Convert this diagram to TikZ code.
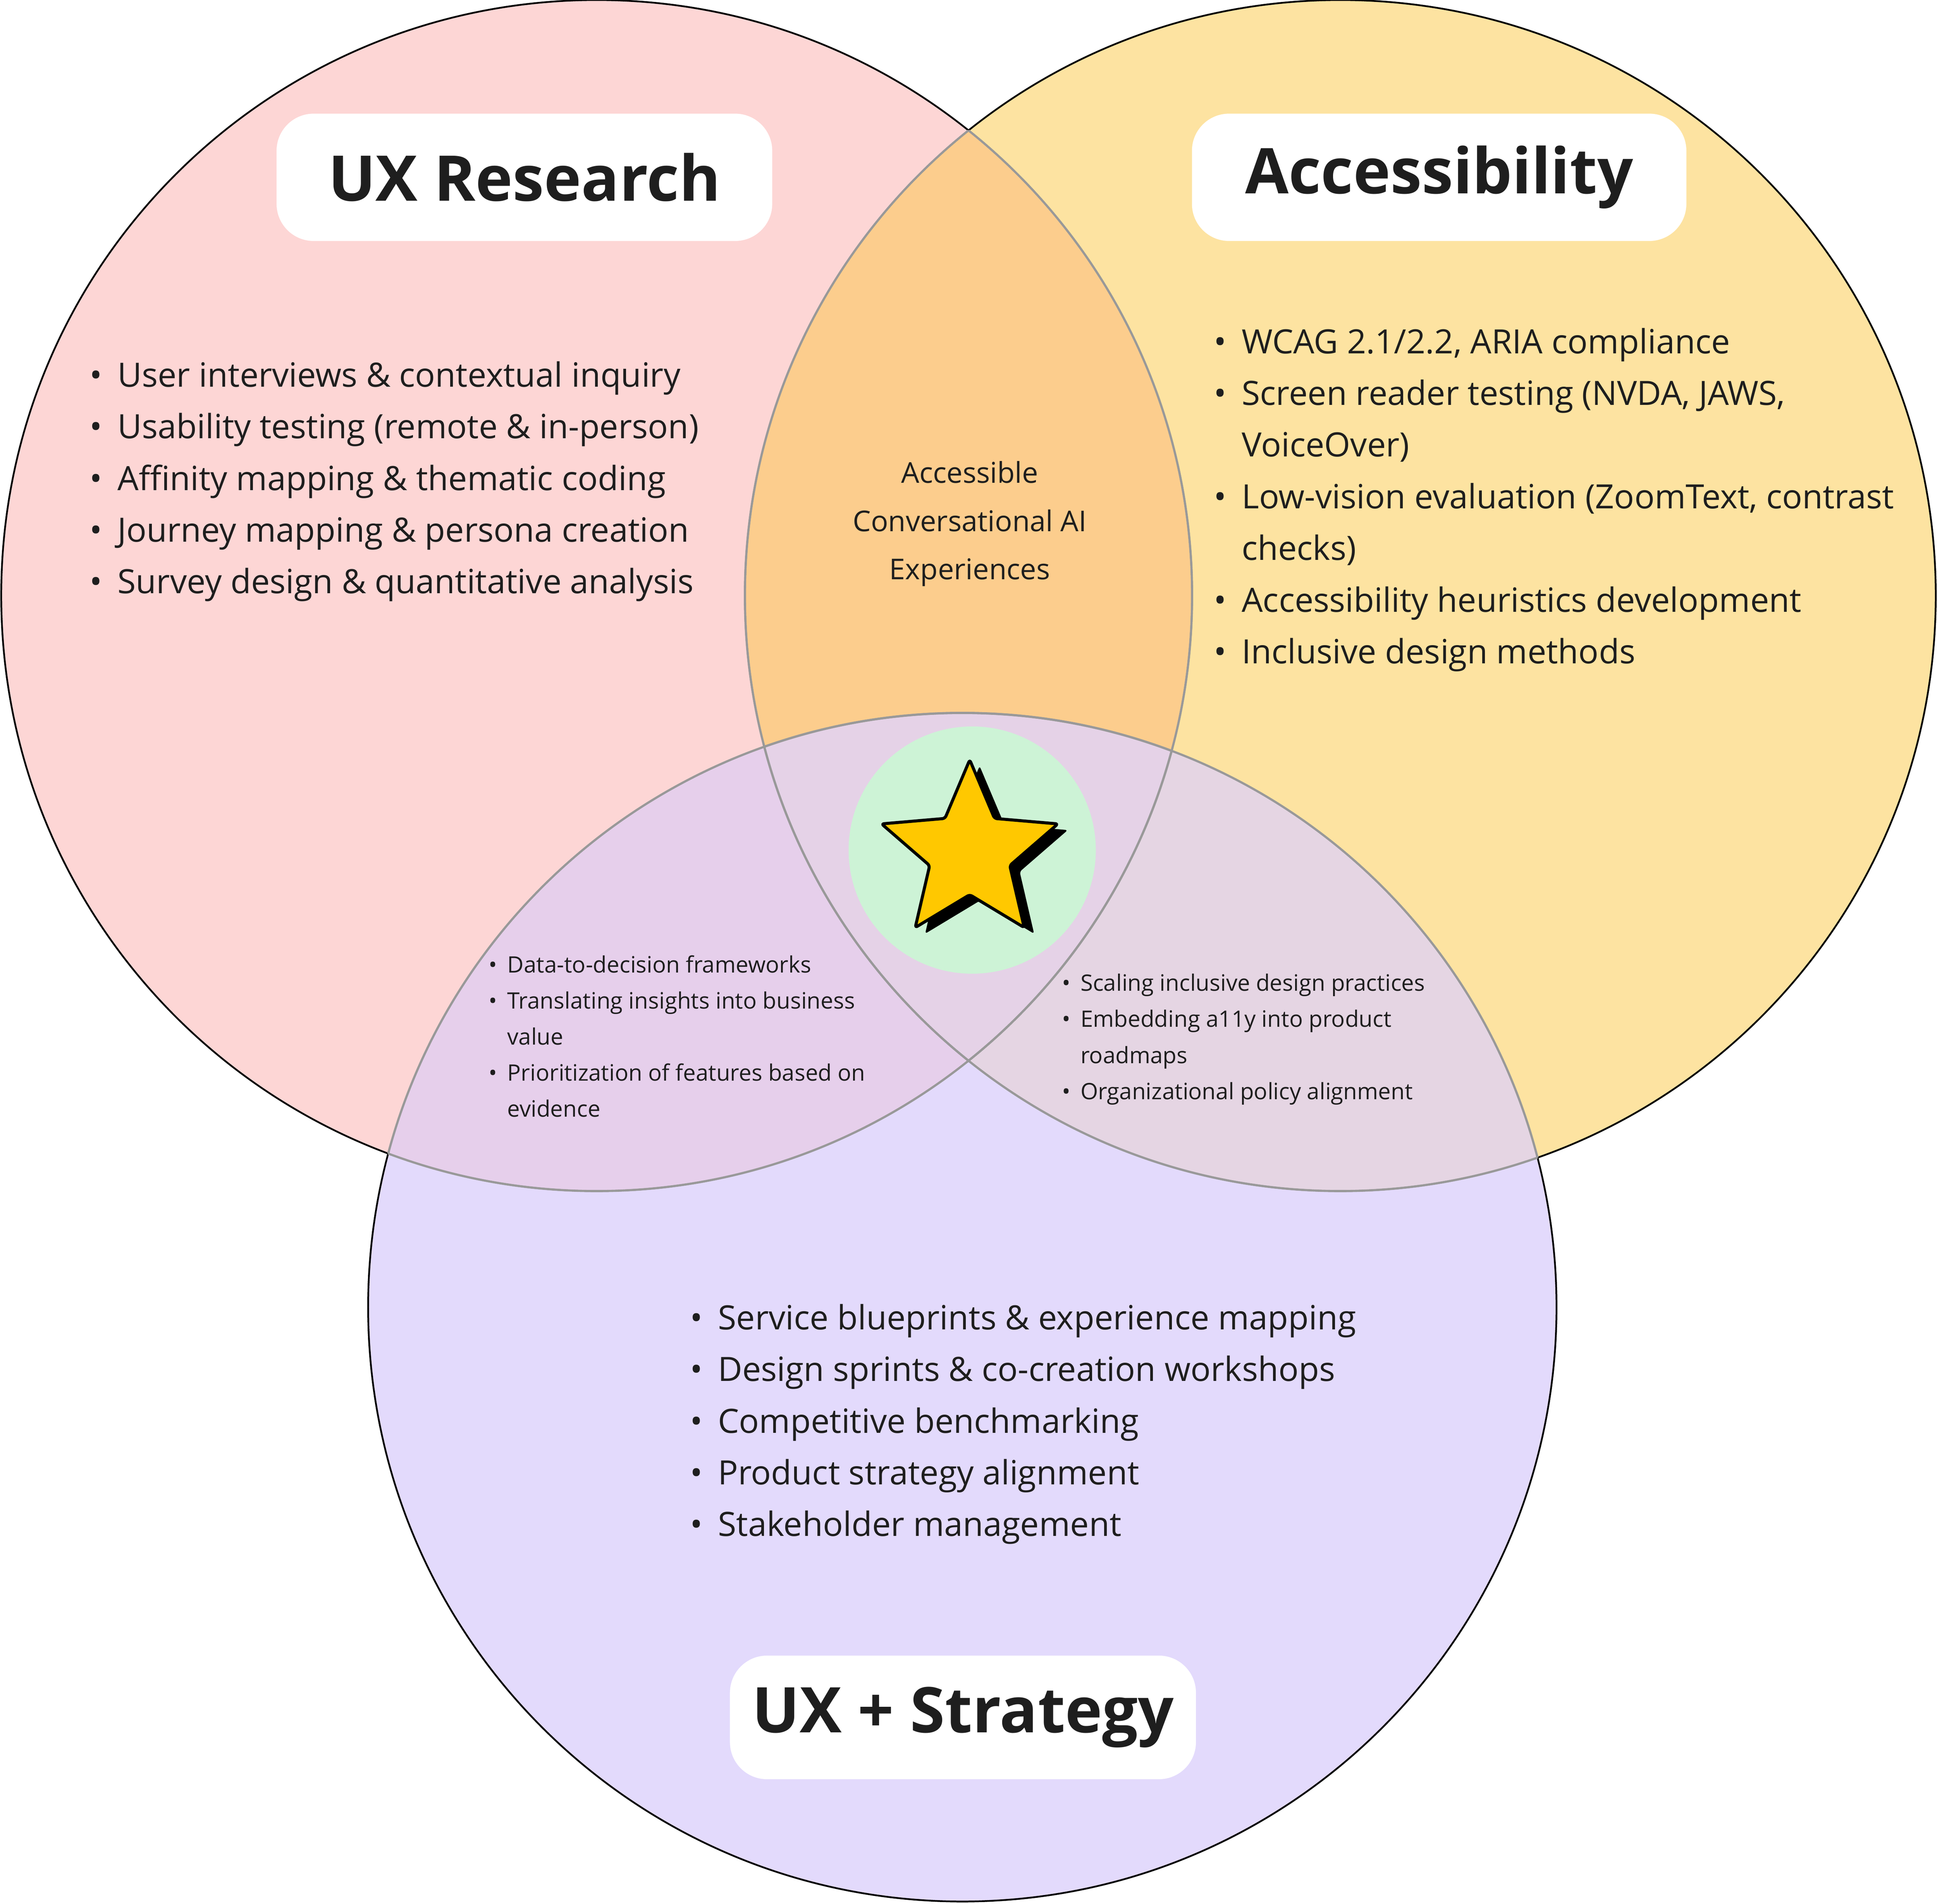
\documentclass[tikz,border=0pt]{standalone}
\usepackage{fontspec}
\setmainfont{Open Sans}
\usetikzlibrary{shapes.geometric}
\definecolor{cpink}{HTML}{FDD6D5}
\definecolor{cyel}{HTML}{FDE3A1}
\definecolor{clav}{HTML}{E3DAFC}
\definecolor{cpy}{HTML}{FCCD8D}
\definecolor{cpl}{HTML}{E6CFEB}
\definecolor{cyl}{HTML}{E5D5E3}
\definecolor{cgreen}{HTML}{CDF3D6}
\definecolor{cstar}{HTML}{FFC800}
\definecolor{ctext}{HTML}{1E1E1E}
\tikzset{
 titlebox/.style={fill=white,rounded corners=0.3cm,inner sep=0pt,font=\fontsize{14.5}{18}\selectfont\bfseries,text=ctext},
 biglist/.style={inner sep=0pt,anchor=north west,align=left,text=ctext,font=\fontsize{7.7}{11.9}\selectfont},
 smalllist/.style={inner sep=0pt,anchor=north west,align=left,text=ctext,font=\fontsize{5.2}{8.3}\selectfont},
}
\newcommand{\bl}{\textbullet}
\begin{document}
\begin{tikzpicture}[x=0.01cm,y=-0.01cm]
\useasboundingbox (0,0) rectangle (1568,1541);
\def\A{(483,482) circle (482)}
\def\B{(1085,482) circle (482)}
\def\C{(779,1058) circle (481)}
\fill[cpink] \A; \fill[cyel] \B; \fill[clav] \C;
\begin{scope}\clip \A; \fill[cpy] \B; \fill[cpl] \C; \end{scope}
\begin{scope}\clip \B; \fill[cyl] \C; \end{scope}
\begin{scope}\clip \A; \clip \B; \fill[cpl!50!cyl] \C; \end{scope}
\draw[black,line width=0.4pt] \A \B \C;
\begin{scope}\clip \B; \draw[gray!80,line width=0.5pt] \A; \end{scope}
\begin{scope}\clip \A; \draw[gray!80,line width=0.5pt] \B; \end{scope}
\begin{scope}\clip \C; \draw[gray!80,line width=0.5pt] \A \B; \end{scope}
\begin{scope}\clip \A; \draw[gray!80,line width=0.5pt] \C; \end{scope}
\begin{scope}\clip \B; \draw[gray!80,line width=0.5pt] \C; \end{scope}
% titles
\node[titlebox,minimum width=4.01cm,minimum height=1.03cm] (t1) at (424.5,143.5) {UX Research};
\node[titlebox,minimum width=4.00cm,minimum height=1.03cm] (t2) at (1165,143.5) {Accessibility};
\node[titlebox,minimum width=3.77cm,minimum height=1.00cm] (t3) at (779.5,1390) {UX + Strategy};
% lists
\node[biglist] (l1) at (72,283) {\begin{tabular}{@{}l@{\hspace{3.5pt}}l@{}}
\bl & User interviews \& contextual inquiry\\
\bl & Usability testing (remote \& in-person)\\
\bl & Affinity mapping \& thematic coding\\
\bl & Journey mapping \& persona creation\\
\bl & Survey design \& quantitative analysis
\end{tabular}};
\node[biglist] (l2) at (982,256) {\begin{tabular}{@{}l@{\hspace{3.5pt}}l@{}}
\bl & WCAG 2.1/2.2, ARIA compliance\\
\bl & Screen reader testing (NVDA, JAWS,\\
 & VoiceOver)\\
\bl & Low-vision evaluation (ZoomText, contrast\\
 & checks)\\
\bl & Accessibility heuristics development\\
\bl & Inclusive design methods
\end{tabular}};
\node[biglist] (l3) at (558,1046) {\begin{tabular}{@{}l@{\hspace{3.5pt}}l@{}}
\bl & Service blueprints \& experience mapping\\
\bl & Design sprints \& co-creation workshops\\
\bl & Competitive benchmarking\\
\bl & Product strategy alignment\\
\bl & Stakeholder management
\end{tabular}};
\node[smalllist] (s1) at (395,766) {\begin{tabular}{@{}l@{\hspace{2.3pt}}l@{}}
\bl & Data-to-decision frameworks\\
\bl & Translating insights into business\\
 & value\\
\bl & Prioritization of features based on\\
 & evidence
\end{tabular}};
\node[smalllist] (s2) at (859,781) {\begin{tabular}{@{}l@{\hspace{2.3pt}}l@{}}
\bl & Scaling inclusive design practices\\
\bl & Embedding a11y into product\\
 & roadmaps\\
\bl & Organizational policy alignment
\end{tabular}};
\node[inner sep=0pt,align=center,text=ctext,font=\fontsize{6.6}{11.1}\selectfont] (ctr) at (785,424) {Accessible\\Conversational AI\\Experiences};
% star
\node[circle,fill=cgreen,minimum size=2cm,inner sep=0pt] (g) at (787,688) {};
\node[star,star points=5,star point ratio=2.2,minimum size=1.5cm,inner sep=0pt,fill=black,rounded corners=0.6pt] (sh) at (793,695) {};
\node[star,star points=5,star point ratio=2.2,minimum size=1.5cm,inner sep=0pt,fill=cstar,draw=black,line width=0.7pt,rounded corners=0.6pt] (st) at (785,690) {};
\end{tikzpicture}
\end{document}
